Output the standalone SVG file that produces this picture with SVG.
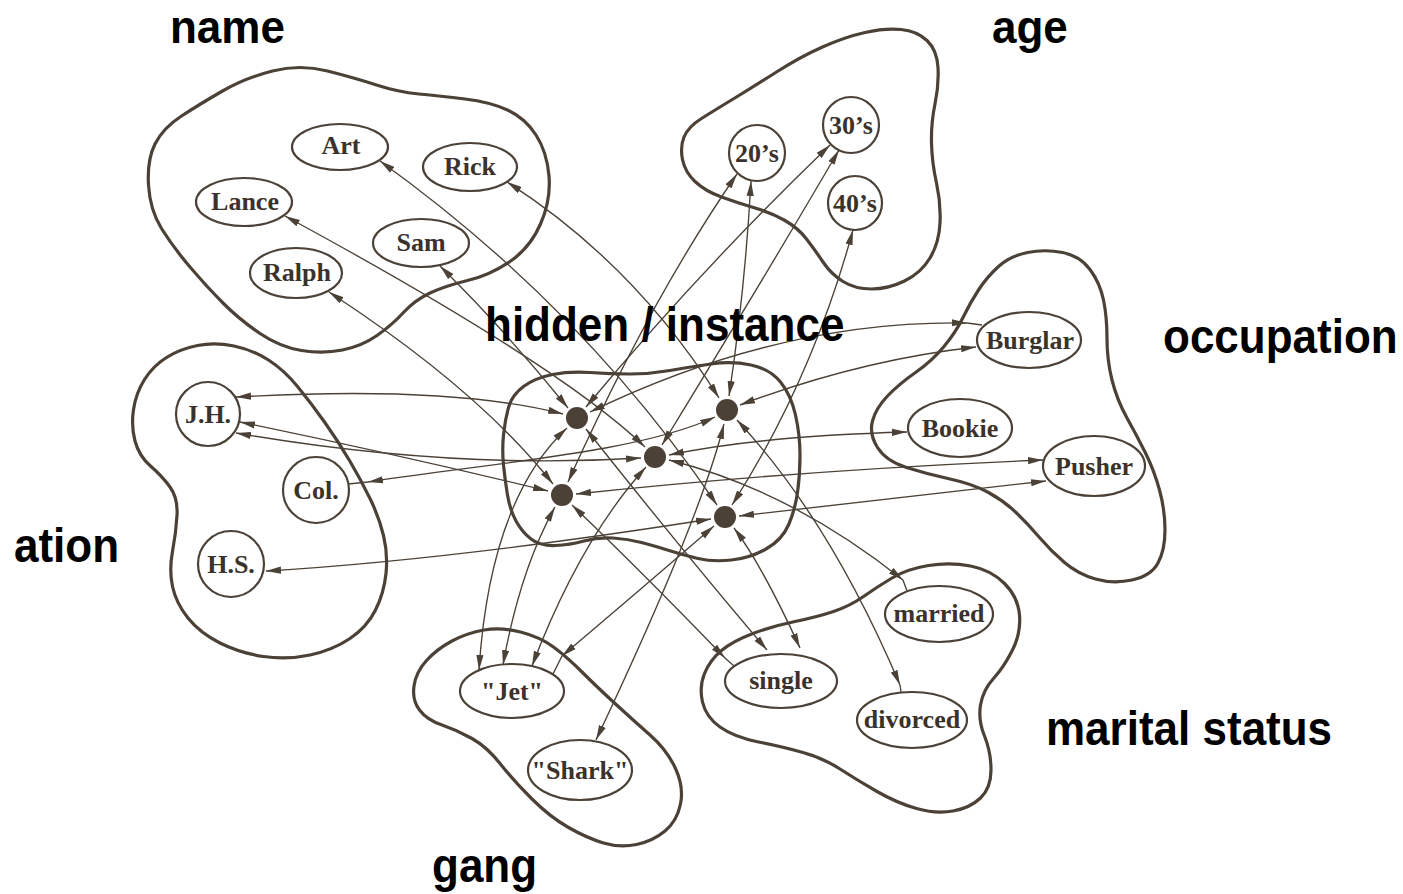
<svg xmlns="http://www.w3.org/2000/svg" width="1403" height="894" viewBox="0 0 1403 894">
<style>
  .blob{fill:none;stroke:#4b4137;stroke-width:3.2;stroke-linejoin:round}
  .node ellipse,.node circle{fill:#fff;stroke:#4b4137;stroke-width:2.2}
  .node text{font-family:"Liberation Serif","Times New Roman",serif;font-weight:bold;font-size:26px;fill:#3a322b;text-anchor:middle}
  .dot{fill:#4b4137}
  #connectors path{fill:none;stroke:#4b4137;stroke-width:1.35}
  #connectors .link{marker-start:url(#ah);marker-end:url(#ah)}
  .label{font-family:"Liberation Sans",Arial,sans-serif;font-weight:bold;font-size:44px;fill:#000}
</style>
<defs>
  <marker id="ah" viewBox="0 0 15 8" refX="15" refY="4" markerWidth="15" markerHeight="8" markerUnits="userSpaceOnUse" orient="auto-start-reverse">
    <path d="M0,0.4 L15,4 L0,7.6 Z" fill="#4b4137"/>
  </marker>
</defs>
<rect width="1403" height="894" fill="#fff"/>

<!-- pool outlines -->
<g id="pools">
  <path id="pool-name" class="blob" d="M155 144 Q147 160 148.5 185 Q150 210 161.5 228.5 Q173 247 190 267 Q207 287 223.5 303.5 Q240 320 260 333.5 Q280 347 301.5 350.5 Q323 354 342.5 350 Q362 346 377 335.5 Q392 325 403.5 312.5 Q415 300 430 293 Q445 286 467.5 280.5 Q490 275 510 261.5 Q530 248 540.5 224 Q551 200 549 176 Q547 152 536 135 Q525 118 507.5 110 Q490 102 465 99 Q440 96 419 94 Q398 92 376.5 85 Q355 78 327.5 71 Q300 64 272.5 71 Q245 78 222.5 91 Q200 104 181.5 116 Q163 128 155 144 Z"/>
  <path id="pool-age" class="blob" d="M684 137 Q680 147 682.5 159.5 Q685 172 695 181.5 Q705 191 721.5 197 Q738 203 755 208 Q772 213 785 220.5 Q798 228 806.5 239 Q815 250 823 262 Q831 274 843 281.5 Q855 289 871.5 289 Q888 289 904.5 281 Q921 273 930 258 Q939 243 940 223 Q941 203 936.5 183 Q932 163 931.5 143 Q931 123 935 104 Q939 85 938 67.5 Q937 50 927 40.5 Q917 31 901 29.5 Q885 28 865 32.5 Q845 37 822.5 47 Q800 57 776.5 72 Q753 87 734 98.5 Q715 110 701.5 118.5 Q688 127 684 137 Z"/>
  <path id="pool-occupation" class="blob" d="M1062.5 252.5 Q1045 249 1027.5 252.5 Q1010 256 998.5 266.5 Q987 277 978.5 290 Q970 303 963 317.5 Q956 332 944 346.5 Q932 361 915.5 372.5 Q899 384 887.5 396 Q876 408 872.5 421 Q869 434 877.5 447.5 Q886 461 906.5 467.5 Q927 474 950 479 Q973 484 988.5 492.5 Q1004 501 1016 512.5 Q1028 524 1039.5 537.5 Q1051 551 1064.5 562.5 Q1078 574 1095.5 579 Q1113 584 1132 580 Q1151 576 1158 563 Q1165 550 1165 530 Q1165 510 1159.5 490 Q1154 470 1145.5 453 Q1137 436 1127 418 Q1117 400 1112 380 Q1107 360 1107 338.5 Q1107 317 1103.5 300 Q1100 283 1090 269.5 Q1080 256 1062.5 252.5 Z"/>
  <path id="pool-education" class="blob" d="M166.5 357.5 Q180 349 197.5 345.5 Q215 342 234 346 Q253 350 268.5 360 Q284 370 297.5 386.5 Q311 403 324.5 422 Q338 441 349.5 460.5 Q361 480 370 498.5 Q379 517 383.5 535.5 Q388 554 386 573.5 Q384 593 375.5 610 Q367 627 350 638.5 Q333 650 310 655 Q287 660 263.5 656.5 Q240 653 220 643 Q200 633 188 618 Q176 603 172.5 586.5 Q169 570 172.5 551.5 Q176 533 177 515.5 Q178 498 170 487 Q162 476 150.5 466 Q139 456 135 441 Q131 426 133.5 409.5 Q136 393 144.5 379.5 Q153 366 166.5 357.5 Z"/>
  <path id="pool-gang" class="blob" d="M452 641 Q467 633 484 630 Q501 627 520.5 632 Q540 637 553.5 647 Q567 657 582 672 Q597 687 615 703.5 Q633 720 650 735 Q667 750 675.5 768.5 Q684 787 680.5 804 Q677 821 665 831 Q653 841 636.5 844.5 Q620 848 603.5 843 Q587 838 568.5 827.5 Q550 817 531.5 798.5 Q513 780 500 763.5 Q487 747 472 738.5 Q457 730 442 725 Q427 720 419.5 710 Q412 700 414 686 Q416 672 426.5 660.5 Q437 649 452 641 Z"/>
  <path id="pool-marital" class="blob" d="M704.5 673.5 Q710 660 721.5 650.5 Q733 641 753 633.5 Q773 626 795 621.5 Q817 617 833.5 611.5 Q850 606 863.5 596.5 Q877 587 892 578 Q907 569 928.5 565.5 Q950 562 970.5 566 Q991 570 1004.5 583.5 Q1018 597 1019.5 615 Q1021 633 1012.5 650 Q1004 667 993.5 678.5 Q983 690 980.5 705 Q978 720 984.5 736 Q991 752 991 770 Q991 788 980.5 798 Q970 808 953 811 Q936 814 916.5 808.5 Q897 803 877 791.5 Q857 780 840 769 Q823 758 803 752.5 Q783 747 758.5 742 Q734 737 720 727 Q706 717 702.5 702 Q699 687 704.5 673.5 Z"/>
  <path id="pool-hidden" class="blob" d="M503.5 435 Q505 420 508.5 407.5 Q512 395 523.5 386.5 Q535 378 552.5 374.5 Q570 371 590 372.5 Q610 374 630 374 Q650 374 670 370.5 Q690 367 711 364 Q732 361 751 365 Q770 369 780.5 382 Q791 395 795.5 415 Q800 435 800 455 Q800 475 797.5 492.5 Q795 510 788.5 525 Q782 540 766 549 Q750 558 731.5 560 Q713 562 698 558.5 Q683 555 669 550.5 Q655 546 641.5 542.5 Q628 539 613 538 Q598 537 584 541 Q570 545 555 545.5 Q540 546 531 539 Q522 532 516 521 Q510 510 507.5 495 Q505 480 503.5 465 Q502 450 503.5 435 Z"/>
</g>

<!-- two-way links between value units and instance units -->
<g id="connectors">
  <!-- names -->
  <path class="link" d="M440 266 Q505 330 568 408"/>
  <path class="link" d="M285 216 Q560 365 645 447"/>
  <path class="link" d="M507 182 Q635 264 719 398"/>
  <path class="link" d="M329 292 Q479 390 553 484"/>
  <path class="link" d="M380 161 Q583 307 717 505"/>
  <!-- ages -->
  <path class="link" d="M830 145 Q700 270 586 407"/>
  <path class="link" d="M839 150 Q760 285 662 445"/>
  <path class="link" d="M751 181 Q745 290 729 396"/>
  <path class="link" d="M737 174 Q650 300 568 482"/>
  <path class="link" d="M853 230 Q812 380 732 505"/>
  <!-- education -->
  <path class="link" d="M236 397 Q450 385 563 414"/>
  <path class="link" d="M240 422 Q400 455 548 491"/>
  <path class="link" d="M236 433 Q450 470 641 458"/>
  <path class="link" d="M368 482 C500 462 640 452 715 417"/>
  <path d="M348 484 L368 482"/>
  <path class="link" d="M266 571 Q450 560 711 519"/>
  <!-- occupation -->
  <path class="link" d="M967 323 Q780 320 590 412"/>
  <path d="M967 323 L982 325"/>
  <path class="link" d="M976 347 Q860 360 740 405"/>
  <path class="link" d="M907 432 Q760 436 669 455"/>
  <path class="link" d="M1043 460 Q800 470 576 494"/>
  <path class="link" d="M1046 481 Q880 500 739 516"/>
  <!-- gang -->
  <path class="link" d="M479 670 Q490 500 567 428"/>
  <path class="link" d="M503 665 Q520 570 555 507"/>
  <path class="link" d="M532 666 Q580 540 646 467"/>
  <path class="link" d="M562 656 Q640 590 714 526"/>
  <path d="M553 674 L562 656"/>
  <path class="link" d="M596 740 Q700 520 724 424"/>
  <!-- marital status -->
  <path class="link" d="M903 580 Q790 490 669 460"/>
  <path d="M903 580 L907 591"/>
  <path class="link" d="M900 685 Q830 520 737 420"/>
  <path d="M900 685 L901 692"/>
  <path class="link" d="M725 658 Q640 570 572 505"/>
  <path d="M725 658 L734 666"/>
  <path class="link" d="M767 650 Q690 560 586 429"/>
  <path class="link" d="M800 648 Q762 565 734 528"/>
</g>

<!-- name units -->
<g id="n-art" class="node"><ellipse cx="340" cy="147" rx="48" ry="23"/><text x="341" y="154">Art</text></g>
<g id="n-rick" class="node"><ellipse cx="470" cy="167" rx="47" ry="24"/><text x="470" y="175">Rick</text></g>
<g id="n-lance" class="node"><ellipse cx="244" cy="202" rx="48" ry="24"/><text x="245" y="210">Lance</text></g>
<g id="n-sam" class="node"><ellipse cx="421" cy="243" rx="48" ry="24"/><text x="421" y="251">Sam</text></g>
<g id="n-ralph" class="node"><ellipse cx="296" cy="273" rx="46" ry="25"/><text x="297" y="281">Ralph</text></g>

<!-- age units -->
<g id="a-20s" class="node"><circle cx="757" cy="153" r="28"/><text x="757" y="162">20&#8217;s</text></g>
<g id="a-30s" class="node"><circle cx="851" cy="125" r="28"/><text x="851" y="134">30&#8217;s</text></g>
<g id="a-40s" class="node"><circle cx="855" cy="203" r="27"/><text x="855" y="212">40&#8217;s</text></g>

<!-- occupation units -->
<g id="o-burglar" class="node"><ellipse cx="1029" cy="340" rx="52" ry="28"/><text x="1030" y="349">Burglar</text></g>
<g id="o-bookie" class="node"><ellipse cx="960" cy="428" rx="52" ry="29"/><text x="960" y="437">Bookie</text></g>
<g id="o-pusher" class="node"><ellipse cx="1094" cy="466" rx="51" ry="30"/><text x="1094" y="475">Pusher</text></g>

<!-- education units -->
<g id="e-jh" class="node"><circle cx="208" cy="414" r="32"/><text x="208" y="423">J.H.</text></g>
<g id="e-col" class="node"><circle cx="316" cy="490" r="33"/><text x="316" y="499">Col.</text></g>
<g id="e-hs" class="node"><circle cx="231" cy="564" r="33"/><text x="231" y="573">H.S.</text></g>

<!-- gang units -->
<g id="g-jet" class="node"><ellipse cx="512" cy="691" rx="52" ry="27"/><text x="512" y="700">"Jet"</text></g>
<g id="g-shark" class="node"><ellipse cx="580" cy="770" rx="52" ry="30"/><text x="580" y="779">"Shark"</text></g>

<!-- marital status units -->
<g id="m-married" class="node"><ellipse cx="939" cy="614" rx="54" ry="28"/><text x="939" y="622">married</text></g>
<g id="m-single" class="node"><ellipse cx="781" cy="681" rx="56" ry="27"/><text x="781" y="689">single</text></g>
<g id="m-divorced" class="node"><ellipse cx="912" cy="720" rx="55" ry="28"/><text x="912" y="728">divorced</text></g>

<!-- instance units -->
<g id="h1"><circle class="dot" cx="577" cy="418" r="11"/></g>
<g id="h2"><circle class="dot" cx="655" cy="457" r="11"/></g>
<g id="h3"><circle class="dot" cx="727" cy="410" r="11"/></g>
<g id="h4"><circle class="dot" cx="562" cy="495" r="11"/></g>
<g id="h5"><circle class="dot" cx="725" cy="517" r="11"/></g>

<!-- pool captions (slightly tall bold sans) -->
<g id="captions">
  <text class="label" transform="translate(170,43) scale(1,1.05)">name</text>
  <text class="label" transform="translate(992,43) scale(1,1.05)">age</text>
  <text class="label" transform="translate(485,341) scale(1,1.1)">hidden / instance</text>
  <text class="label" transform="translate(1163,353) scale(1,1.1)">occupation</text>
  <text class="label" transform="translate(14,562) scale(1,1.1)">ation</text>
  <text class="label" transform="translate(1046,745) scale(1,1.1)">marital status</text>
  <text class="label" transform="translate(432,882) scale(1,1.1)">gang</text>
</g>
</svg>
